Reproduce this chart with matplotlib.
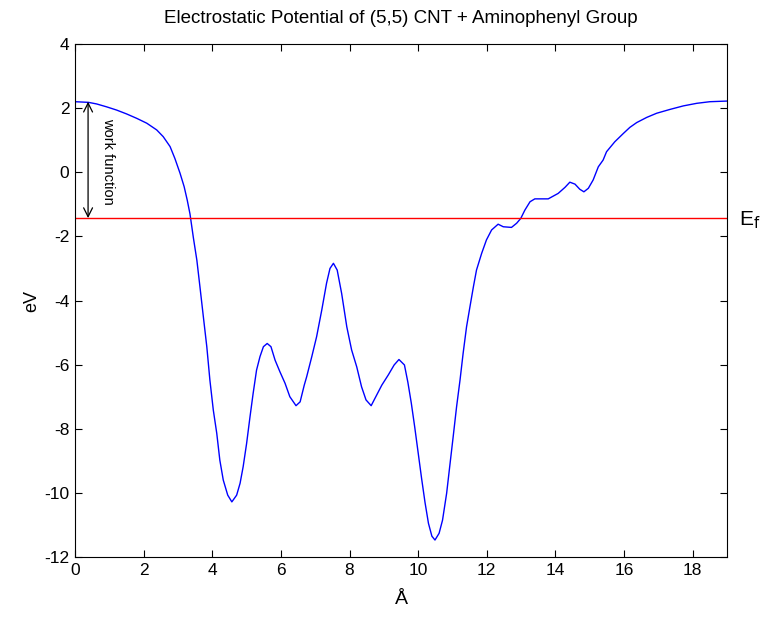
import matplotlib
matplotlib.use("Agg")
import matplotlib.pyplot as plt

# Electrostatic potential profile along the tube axis (Angstrom, eV)
distance = [0.0, 0.39, 0.63, 0.92, 1.21, 1.50, 1.80, 2.09, 2.38, 2.57, 2.77,
            2.91, 3.06, 3.18, 3.27, 3.35, 3.45, 3.55, 3.64, 3.74, 3.84, 3.93,
            4.03, 4.13, 4.22, 4.32, 4.45, 4.57, 4.71, 4.81, 4.90, 5.00, 5.10,
            5.19, 5.29, 5.39, 5.49, 5.60, 5.71, 5.83, 5.97, 6.12, 6.26, 6.44,
            6.56, 6.68, 6.75, 6.90, 7.04, 7.19, 7.33, 7.43, 7.53, 7.64, 7.77,
            7.92, 8.06, 8.21, 8.35, 8.48, 8.63, 8.79, 8.94, 9.13, 9.30, 9.44,
            9.60, 9.70, 9.80, 9.90, 10.00, 10.10, 10.20, 10.30, 10.40, 10.49,
            10.61, 10.71, 10.83, 10.93, 11.02, 11.12, 11.22, 11.31, 11.41,
            11.51, 11.61, 11.70, 11.85, 11.99, 12.14, 12.33, 12.48, 12.72,
            12.87, 12.99, 13.11, 13.26, 13.40, 13.79, 14.08, 14.28, 14.42,
            14.57, 14.71, 14.83, 14.96, 15.10, 15.25, 15.39, 15.49, 15.73,
            15.98, 16.17, 16.37, 16.66, 16.95, 17.34, 17.73, 18.12, 18.50,
            19.00]
potential = [2.20, 2.18, 2.13, 2.04, 1.94, 1.82, 1.68, 1.53, 1.32, 1.11, 0.80,
             0.43, -0.03, -0.45, -0.87, -1.30, -2.05, -2.74, -3.57, -4.51,
             -5.44, -6.48, -7.42, -8.14, -8.98, -9.60, -10.07, -10.28, -10.07,
             -9.70, -9.18, -8.46, -7.62, -6.90, -6.17, -5.75, -5.44, -5.34,
             -5.44, -5.86, -6.22, -6.58, -7.00, -7.28, -7.16, -6.64, -6.38,
             -5.75, -5.13, -4.30, -3.46, -3.00, -2.84, -3.05, -3.78, -4.82,
             -5.54, -6.07, -6.69, -7.10, -7.28, -6.95, -6.64, -6.32, -6.01,
             -5.84, -6.01, -6.55, -7.20, -7.95, -8.75, -9.55, -10.30, -10.95,
             -11.35, -11.47, -11.26, -10.85, -10.01, -9.08, -8.25, -7.31,
             -6.48, -5.65, -4.82, -4.19, -3.57, -3.05, -2.53, -2.11, -1.80,
             -1.62, -1.70, -1.72, -1.59, -1.44, -1.18, -0.92, -0.83, -0.83,
             -0.66, -0.47, -0.31, -0.37, -0.53, -0.61, -0.50, -0.24, 0.17,
             0.38, 0.64, 0.95, 1.21, 1.40, 1.55, 1.71, 1.84, 1.96, 2.07, 2.15,
             2.20, 2.22]
fermi_level = -1.43
vacuum_level = 2.2

x_ticks = list(range(0, 19, 2))
y_ticks = list(range(-12, 5, 2))

plt.rcParams["font.family"] = ["Liberation Sans", "DejaVu Sans"]
plt.rcParams["axes.unicode_minus"] = False

fig = plt.figure(figsize=(7.61, 6.17), dpi=100)
ax = fig.add_axes([0.0986, 0.0972, 0.8567, 0.8315])

ax.plot(distance, potential, color="#0000ff", linewidth=1.0)
ax.axhline(fermi_level, color="#ff0000", linewidth=1.0)

ax.set_xlim(0, 19)
ax.set_ylim(-12, 4)
ax.set_xticks(x_ticks)
ax.set_yticks(y_ticks)
ax.tick_params(direction="in", top=True, right=True, length=5, width=0.8,
               labelsize=12.5, pad=4)
for s in ax.spines.values():
    s.set_linewidth(0.8)

# Work function: vacuum level down to the Fermi level
ax.annotate("", xy=(0.38, fermi_level), xytext=(0.38, vacuum_level),
            arrowprops=dict(arrowstyle="<->", color="black", lw=0.9,
                            shrinkA=0, shrinkB=0, mutation_scale=16))
ax.text(0.95, (vacuum_level + fermi_level) / 2 - 0.05, "work function",
        rotation=-90, ha="center", va="center", fontsize=10.5)

ax.text(19.35, fermi_level - 0.05, r"E$_\mathrm{f}$", ha="left", va="center",
        fontsize=15, clip_on=False)

ax.set_title("Electrostatic Potential of (5,5) CNT + Aminophenyl Group",
             fontsize=13.5, pad=15)
ax.set_xlabel("Å", fontsize=14, labelpad=10)
ax.set_ylabel("eV", fontsize=13, labelpad=3)

fig.savefig("out.png", dpi=100)
